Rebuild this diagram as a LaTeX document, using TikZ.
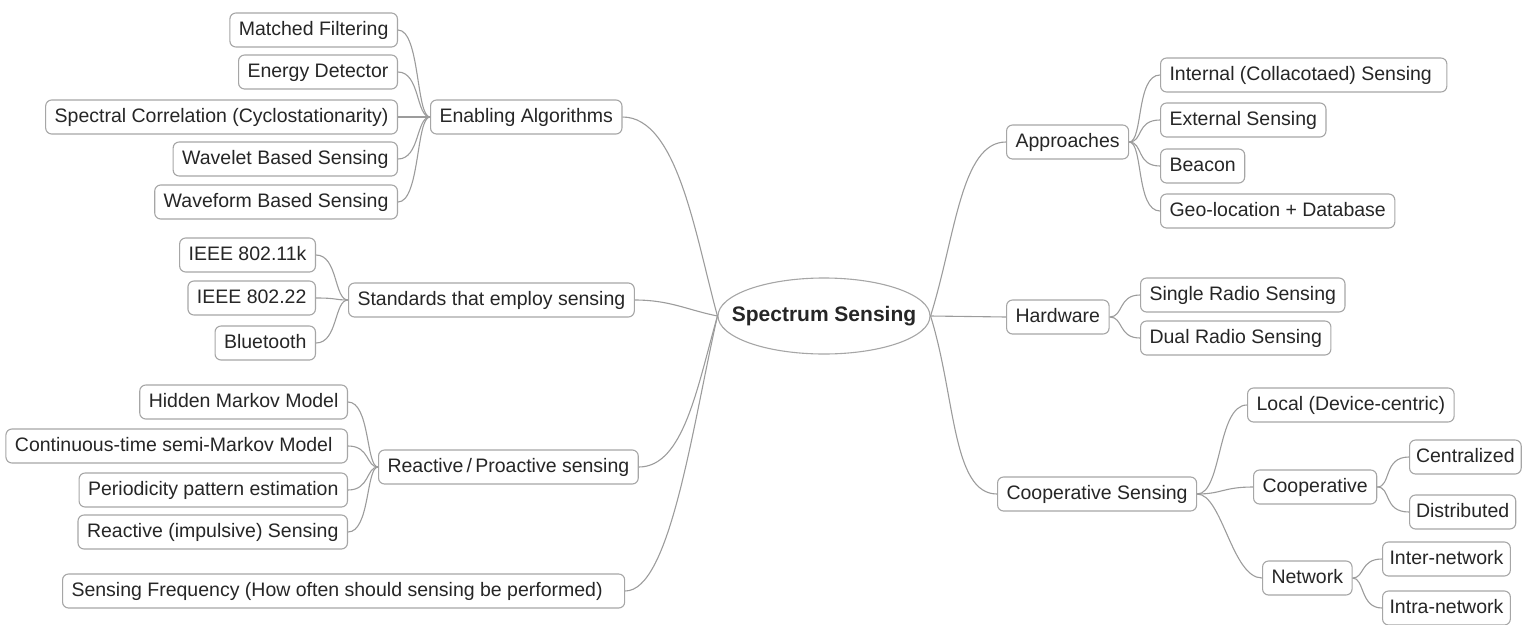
\documentclass[tikz,border=0pt]{standalone}
\usepackage{fontspec}
\setmainfont{Liberation Sans}
\usetikzlibrary{shapes.geometric}
\definecolor{boxline}{HTML}{A6A6A6}
\definecolor{conncol}{HTML}{9C9C9C}
\definecolor{txt}{HTML}{262626}
\begin{document}
\begin{tikzpicture}[x=1pt,y=-1pt,
  box/.style={draw=boxline, line width=1.1pt, rounded corners=6pt, fill=white, text=txt,
    font=\fontsize{19.5}{22}\selectfont, inner xsep=9pt, inner ysep=0pt,
    minimum height=34pt, text height=14pt, text depth=4pt},
  rootbox/.style={ellipse, draw=boxline, line width=1.1pt, fill=white, text=txt,
    minimum width=212pt, minimum height=76pt, inner xsep=-40pt, inner ysep=0pt,
    font=\bfseries\fontsize{21}{24}\selectfont},
  conn/.style={draw=conncol, line width=1.1pt},
]
\useasboundingbox (0,0) rectangle (1523,624);

% root
\node[rootbox] (root) at (824,316) {Spectrum Sensing};

% ---- left: enabling algorithms
\node[box, anchor=west] (enab) at (430,117) {Enabling Algorithms};
\node[box, anchor=east] (mf) at (398,30) {Matched Filtering};
\node[box, anchor=east] (ed) at (398,72) {Energy Detector};
\node[box, anchor=east] (sc) at (398,117) {Spectral Correlation (Cyclostationarity)};
\node[box, anchor=east] (wl) at (398,159) {Wavelet Based Sensing};
\node[box, anchor=east] (wf) at (398,202) {Waveform Based Sensing};

% ---- left: standards
\node[box, anchor=west] (std) at (348,300) {Standards that employ sensing};
\node[box, anchor=east] (i11) at (316,255) {IEEE 802.11k};
\node[box, anchor=east] (i22) at (316,298) {IEEE 802.22};
\node[box, anchor=east] (bt) at (316,343) {Bluetooth};

% ---- left: reactive / proactive
\node[box, anchor=west] (rp) at (378,467) {Reactive\,/\,Proactive sensing};
\node[box, anchor=east] (hmm) at (348,402) {Hidden Markov Model};
\node[box, anchor=east] (ct) at (348,446) {Continuous-time semi-Markov Model\kern6pt};
\node[box, anchor=east] (pp) at (348,490) {Periodicity pattern estimation};
\node[box, anchor=east] (ri) at (348,532) {Reactive (impulsive) Sensing};

% ---- left: sensing frequency
\node[box, anchor=west] (sf) at (62,591) {Sensing Frequency (How often should sensing be performed)\kern13pt};

% ---- right: approaches
\node[box, anchor=west] (app) at (1006,142) {Approaches};
\node[box, anchor=west] (int) at (1160,75) {Internal (Collacotaed) Sensing\kern6pt};
\node[box, anchor=west] (ext) at (1160,120) {External Sensing};
\node[box, anchor=west] (bea) at (1160,166) {Beacon};
\node[box, anchor=west] (geo) at (1160,211) {Geo-location + Database};

% ---- right: hardware
\node[box, anchor=west] (hw) at (1006,317) {Hardware};
\node[box, anchor=west] (srs) at (1140,295) {Single Radio Sensing};
\node[box, anchor=west] (drs) at (1140,338) {Dual Radio Sensing};

% ---- right: cooperative sensing
\node[box, anchor=west] (cs) at (997,494) {Cooperative Sensing};
\node[box, anchor=west] (loc) at (1247,405) {Local (Device-centric)};
\node[box, anchor=west] (coop) at (1253,487) {Cooperative};
\node[box, anchor=west] (net) at (1262,578) {Network};
\node[box, anchor=west, inner xsep=6.5pt] (cen) at (1409,457) {Centralized};
\node[box, anchor=west, inner xsep=6.5pt] (dis) at (1409,512) {Distributed};
\node[box, anchor=west, inner xsep=7pt] (inter) at (1382,559) {Inter-network};
\node[box, anchor=west, inner xsep=7pt] (intra) at (1382,608) {Intra-network};

% ---- connectors: root to main branches
\draw[conn] (root.west) .. controls +(-22,-80) and +(55,0) .. (enab.east);
\draw[conn] (root.west) .. controls +(-30,-6) and +(35,0) .. (std.east);
\draw[conn] (root.west) .. controls +(-20,70) and +(45,0) .. (rp.east);
\draw[conn] (root.west) .. controls +(-25,110) and +(45,0) .. (sf.east);
\draw[conn] (root.east) .. controls +(25,-80) and +(-45,0) .. (app.west);
\draw[conn] (root.east) -- (hw.west);
\draw[conn] (root.east) .. controls +(25,80) and +(-45,0) .. (cs.west);

% ---- left groups
\foreach \c in {mf,ed,sc,wl,wf}
  \draw[conn] (\c.east) .. controls +(22,0) and +(-14,0) .. (enab.west);
\foreach \c in {i11,i22,bt}
  \draw[conn] (\c.east) .. controls +(22,0) and +(-14,0) .. (std.west);
\foreach \c in {hmm,ct,pp,ri}
  \draw[conn] (\c.east) .. controls +(22,0) and +(-12,0) .. (rp.west);

% ---- right groups
\foreach \c in {int,ext,bea,geo}
  \draw[conn] (app.east) .. controls +(14,0) and +(-24,0) .. (\c.west);
\foreach \c in {srs,drs}
  \draw[conn] (hw.east) .. controls +(14,0) and +(-22,0) .. (\c.west);
\foreach \c in {loc,coop,net}
  \draw[conn] (cs.east) .. controls +(25,0) and +(-30,0) .. (\c.west);
\foreach \c in {cen,dis}
  \draw[conn] (coop.east) .. controls +(14,0) and +(-26,0) .. (\c.west);
\foreach \c in {inter,intra}
  \draw[conn] (net.east) .. controls +(12,0) and +(-22,0) .. (\c.west);
\end{tikzpicture}
\end{document}
